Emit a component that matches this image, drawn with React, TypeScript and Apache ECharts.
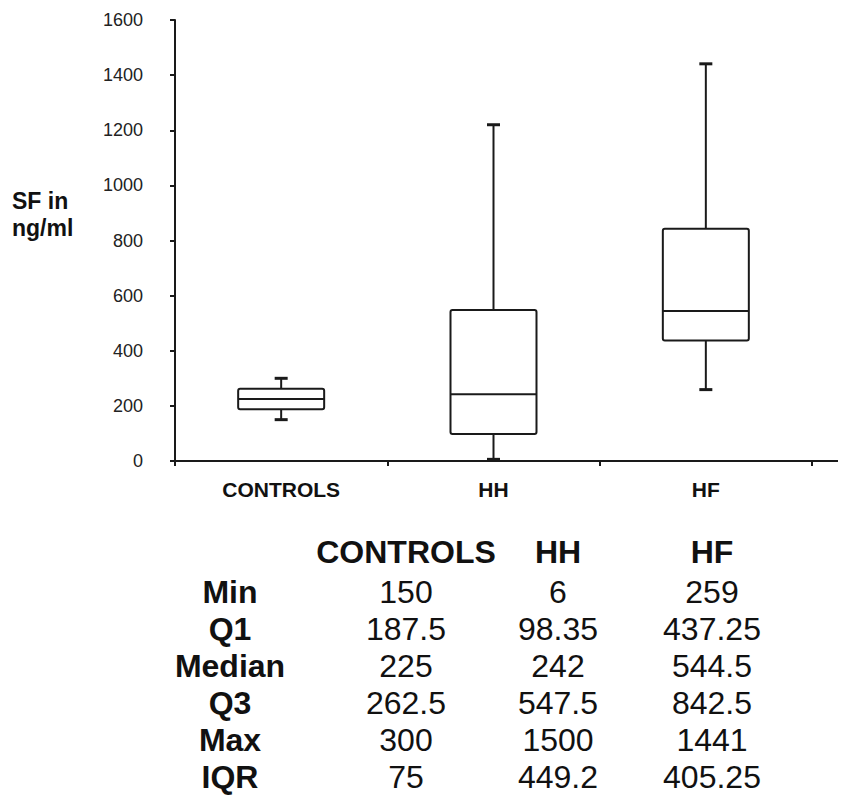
import React, { useEffect, useRef } from "react";
import * as echarts from "echarts";

const categories = ["CONTROLS", "HH", "HF"];
const yTicks = [0, 200, 400, 600, 800, 1000, 1200, 1400, 1600];

// values
const boxMin = [150, 6, 259];
const boxQ1 = [187.5, 98.35, 437.25];
const boxMedian = [225, 242, 544.5];
const boxQ3 = [262.5, 547.5, 842.5];
const boxWhiskerMax = [300, 1220, 1441];

// values printed in the summary table
const rowLabels = ["Min", "Q1", "Median", "Q3", "Max", "IQR"];
const tableMin = ["150", "6", "259"];
const tableQ1 = ["187.5", "98.35", "437.25"];
const tableMedian = ["225", "242", "544.5"];
const tableQ3 = ["262.5", "547.5", "842.5"];
const tableMax = ["300", "1500", "1441"];
const tableIQR = ["75", "449.2", "405.25"];

const FONT = "'Liberation Sans', Arial, Helvetica, sans-serif";
const INK = "#1a1a1a";

export default function App() {
  const ref = useRef<HTMLDivElement>(null);

  useEffect(() => {
    if (!ref.current) return;
    const chart = echarts.init(ref.current, null, { renderer: "svg" });

    const data = categories.map((_, i) => [
      i,
      boxMin[i],
      boxQ1[i],
      boxMedian[i],
      boxQ3[i],
      boxWhiskerMax[i],
    ]);

    const tableCols = [tableMin, tableQ1, tableMedian, tableQ3, tableMax, tableIQR];
    const colX = [406, 558, 712];
    const labelX = 230;
    const headerY = 552;
    const rowY0 = 592;
    const rowStep = 37;

    const graphics: any[] = [];
    categories.forEach((c, j) => {
      graphics.push({
        type: "text",
        x: colX[j],
        y: headerY,
        style: {
          text: c,
          fill: "#111",
          font: `bold 32px ${FONT}`,
          textAlign: "center",
          textVerticalAlign: "middle",
        },
      });
    });
    rowLabels.forEach((lab, r) => {
      graphics.push({
        type: "text",
        x: labelX,
        y: rowY0 + r * rowStep,
        style: {
          text: lab,
          fill: "#111",
          font: `bold 32px ${FONT}`,
          textAlign: "center",
          textVerticalAlign: "middle",
        },
      });
      tableCols[r].forEach((v, j) => {
        graphics.push({
          type: "text",
          x: colX[j],
          y: rowY0 + r * rowStep,
          style: {
            text: v,
            fill: "#111",
            font: `32px ${FONT}`,
            textAlign: "center",
            textVerticalAlign: "middle",
          },
        });
      });
    });
    // y axis title
    graphics.push({
      type: "text",
      x: 12,
      y: 201,
      style: {
        text: "SF in",
        fill: "#111",
        font: `bold 23px ${FONT}`,
        textAlign: "left",
        textVerticalAlign: "middle",
      },
    });
    graphics.push({
      type: "text",
      x: 12,
      y: 228,
      style: {
        text: "ng/ml",
        fill: "#111",
        font: `bold 23px ${FONT}`,
        textAlign: "left",
        textVerticalAlign: "middle",
      },
    });
    // x axis line extension past last category
    graphics.push({
      type: "line",
      shape: { x1: 812, y1: 461, x2: 838, y2: 461 },
      style: { stroke: INK, lineWidth: 2 },
    });

    chart.setOption({
      animation: false,
      grid: { left: 175, right: 42, top: 20, bottom: 340, containLabel: false },
      xAxis: {
        type: "category",
        data: categories,
        boundaryGap: true,
        axisLine: { lineStyle: { color: INK, width: 2 } },
        axisTick: { show: true, length: 5, interval: 0, lineStyle: { color: INK, width: 2 } },
        axisLabel: {
          color: "#111",
          fontFamily: FONT,
          fontWeight: "bold",
          fontSize: 21,
          margin: 18,
          interval: 0,
        },
        splitLine: { show: false },
      },
      yAxis: {
        type: "value",
        min: yTicks[0],
        max: yTicks[yTicks.length - 1],
        interval: 200,
        axisLine: { show: true, lineStyle: { color: INK, width: 2 } },
        axisTick: { show: true, length: 5, lineStyle: { color: INK, width: 2 } },
        axisLabel: {
          color: "#222",
          fontFamily: FONT,
          fontSize: 18,
          margin: 32,
          formatter: (v: number) => String(v),
        },
        splitLine: { show: false },
      },
      graphic: graphics,
      series: [
        {
          type: "custom",
          data,
          encode: { x: 0, y: [1, 2, 3, 4, 5] },
          renderItem: (params: any, api: any) => {
            const idx = api.value(0);
            const pMin = api.coord([idx, api.value(1)]);
            const pQ1 = api.coord([idx, api.value(2)]);
            const pMed = api.coord([idx, api.value(3)]);
            const pQ3 = api.coord([idx, api.value(4)]);
            const pMax = api.coord([idx, api.value(5)]);
            const band = api.size([1, 0])[0];
            const boxW = band * 0.405;
            const capW = 13;
            const cx = pMed[0];
            const stroke = { stroke: INK, lineWidth: 2, fill: "none" };
            return {
              type: "group",
              children: [
                {
                  type: "line",
                  shape: { x1: cx, y1: pQ3[1], x2: cx, y2: pMax[1] },
                  style: stroke,
                },
                {
                  type: "line",
                  shape: { x1: cx, y1: pQ1[1], x2: cx, y2: pMin[1] },
                  style: stroke,
                },
                {
                  type: "line",
                  shape: { x1: cx - capW / 2, y1: pMax[1], x2: cx + capW / 2, y2: pMax[1] },
                  style: { stroke: INK, lineWidth: 3 },
                },
                {
                  type: "line",
                  shape: { x1: cx - capW / 2, y1: pMin[1], x2: cx + capW / 2, y2: pMin[1] },
                  style: { stroke: INK, lineWidth: 3 },
                },
                {
                  type: "rect",
                  shape: {
                    x: cx - boxW / 2,
                    y: pQ3[1],
                    width: boxW,
                    height: pQ1[1] - pQ3[1],
                    r: 2,
                  },
                  style: { stroke: INK, lineWidth: 2, fill: "#fff" },
                },
                {
                  type: "line",
                  shape: { x1: cx - boxW / 2, y1: pMed[1], x2: cx + boxW / 2, y2: pMed[1] },
                  style: { stroke: INK, lineWidth: 2 },
                },
              ],
            };
          },
        },
      ],
    });

    return () => chart.dispose();
  }, []);

  return (
    <div
      ref={ref}
      style={{ position: "absolute", left: 0, top: 0, width: 854, height: 801, background: "#fff" }}
    />
  );
}
